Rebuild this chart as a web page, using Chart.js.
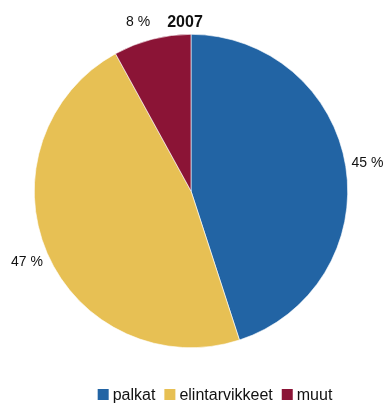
<!DOCTYPE html>
<html>
<head>
<meta charset="utf-8">
<script src="https://cdn.jsdelivr.net/npm/chart.js@4/dist/chart.umd.min.js"></script>
<style>
  html, body { margin: 0; padding: 0; background: #fff; }
  #wrap { width: 387px; height: 405px; }
</style>
</head>
<body>
<div id="wrap"><canvas id="c" width="387" height="405"></canvas></div>
<script>
// Menojen jakauma vuonna 2007
const year = '2007';
const categories = ['palkat', 'elintarvikkeet', 'muut'];
const shares = [45, 47, 8];
const colors = ['#2264A4', '#E7C054', '#8B1436'];

const FONT = '"Liberation Sans", Arial, sans-serif';

// Prosenttiluvut sektorien ulkopuolelle, legenda ja otsikko
const annotate = {
  id: 'annotate',
  afterDraw(chart) {
    const ctx = chart.ctx;
    const meta = chart.getDatasetMeta(0);
    ctx.save();
    ctx.fillStyle = '#111';
    ctx.font = '14px ' + FONT;
    ctx.textAlign = 'center';
    ctx.textBaseline = 'middle';
    meta.data.forEach((arc, i) => {
      const p = arc.getProps(['x', 'y', 'startAngle', 'endAngle', 'outerRadius'], true);
      const mid = (p.startAngle + p.endAngle) / 2;
      const r = p.outerRadius + 22;
      let lx = p.x + Math.cos(mid) * r;
      let ly = p.y + Math.sin(mid) * r;
      // pieni sektori: siirretään otsikon vierestä vasemmalle
      if (lx < p.x && ly < p.y - p.outerRadius) { lx -= 8.5; ly += 4; }
      ctx.fillText(shares[i] + ' %', lx, ly);
    });

    // otsikko
    ctx.font = 'bold 16px ' + FONT;
    ctx.textBaseline = 'alphabetic';
    ctx.fillText(year, 185, 27);

    // legenda
    ctx.font = '16px ' + FONT;
    ctx.textAlign = 'left';
    const box = 11, gapText = 4, gapItem = 9;
    let total = 0;
    const widths = categories.map(c => ctx.measureText(c).width);
    widths.forEach((w, i) => { total += box + gapText + w + (i ? gapItem : 0); });
    let x = 215 - total / 2;
    const y = 389;
    categories.forEach((c, i) => {
      ctx.fillStyle = colors[i];
      ctx.fillRect(x, y, box, box);
      ctx.fillStyle = '#111';
      ctx.fillText(c, x + box + gapText, y + 10.5);
      x += box + gapText + widths[i] + gapItem;
    });
    ctx.restore();
  }
};

new Chart(document.getElementById('c'), {
  type: 'pie',
  data: {
    labels: categories,
    datasets: [{
      data: shares,
      backgroundColor: colors,
      borderWidth: 0.6,
      borderColor: '#ffffff'
    }]
  },
  options: {
    responsive: false,
    animation: false,
    layout: { padding: { left: 34, right: 39, top: 34, bottom: 57 } },
    plugins: {
      legend: { display: false },
      title: { display: false },
      tooltip: { enabled: false }
    }
  },
  plugins: [annotate]
});
</script>
</body>
</html>
